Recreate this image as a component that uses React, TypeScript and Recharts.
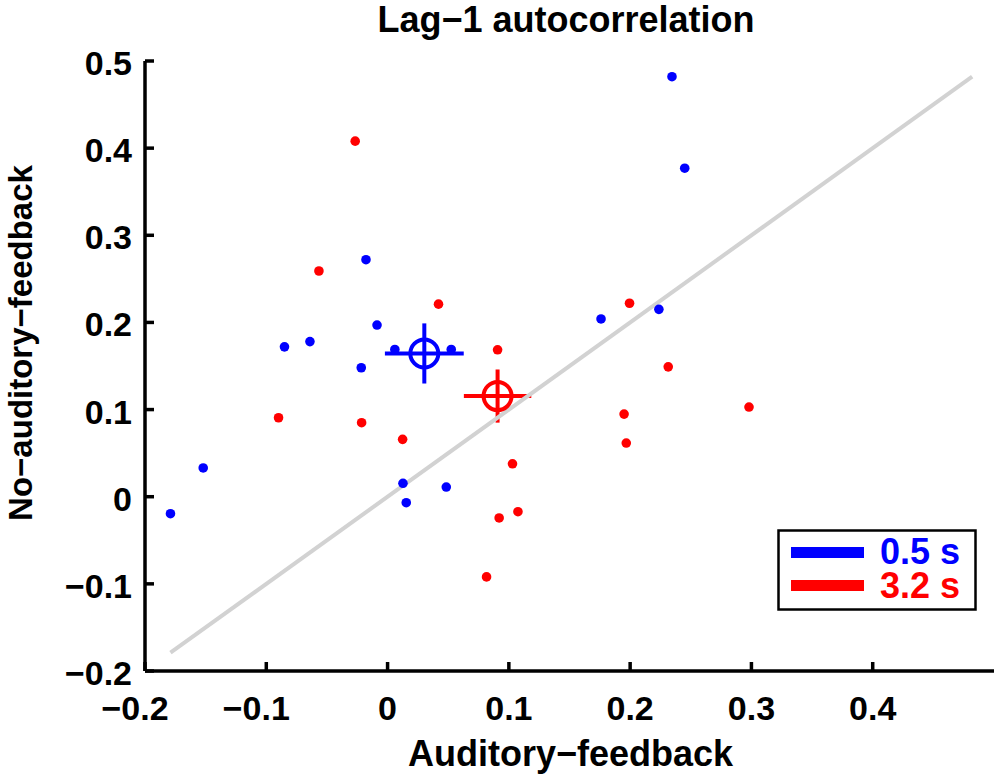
import React from 'react';
import { ScatterChart, Scatter, XAxis, YAxis, ErrorBar, Label, Legend } from 'recharts';

// one dot per subject, two tempo conditions
const blueX = [0.2345, 0.245, -0.0178, -0.0087, -0.064, -0.085, 0.006, 0.0525, -0.0217, 0.176, 0.2237, -0.152, 0.0127, 0.0484, -0.179, 0.0154];
const blueY = [0.482, 0.377, 0.272, 0.197, 0.178, 0.172, 0.169, 0.169, 0.148, 0.204, 0.215, 0.033, 0.0154, 0.0111, -0.0195, -0.0069];
const redX = [-0.0267, -0.0566, 0.042, 0.0907, 0.1995, 0.2314, -0.0899, -0.0214, 0.0124, 0.103, 0.1075, 0.092, 0.0816, 0.195, 0.298, 0.1968];
const redY = [0.408, 0.259, 0.221, 0.1686, 0.222, 0.149, 0.0906, 0.0849, 0.0658, 0.0378, -0.0172, -0.0244, -0.092, 0.0948, 0.1029, 0.0616];

// group means with error bars (blue, red)
const meanX = [0.0303, 0.0907];
const meanY = [0.1644, 0.1155];
const errX = [0.0325, 0.0278];
const errY = [0.0345, 0.0305];

const xTicks = [-0.2, -0.1, 0, 0.1, 0.2, 0.3, 0.4];
const yTicks = [-0.2, -0.1, 0, 0.1, 0.2, 0.3, 0.4, 0.5];
const seriesNames = ['0.5 s', '3.2 s'];

const BLUE = '#0000ff';
const RED = '#ff0000';
const FONT = '"Liberation Sans", Arial, Helvetica, sans-serif';

const toPoints = (xs: number[], ys: number[]) => xs.map((x, i) => ({ x, y: ys[i] }));
const bluePts = toPoints(blueX, blueY);
const redPts = toPoints(redX, redY);
const blueMean = [{ x: meanX[0], y: meanY[0], ex: errX[0], ey: errY[0] }];
const redMean = [{ x: meanX[1], y: meanY[1], ex: errX[1], ey: errY[1] }];

// identity line spans the pooled data range
const all = [...blueX, ...blueY, ...redX, ...redY];
const lo = Math.min(...all);
const hi = Math.max(...all);
const diag = [{ x: lo, y: lo }, { x: hi, y: hi }];

const fmt = (v: number) => (v === 0 ? '0' : (v < 0 ? '\u2212' : '') + Math.abs(v).toFixed(1));

const XTick = ({ x, y, payload }: any) => {
  const v = payload.value;
  return (
    <g>
      <line x1={x} x2={x} y1={y} y2={y - 9} stroke="#000" strokeWidth={3.5} />
      <text x={x + (v < 0 ? -10 : 0)} y={y + 49} textAnchor="middle" fontFamily={FONT} fontWeight="bold" fontSize={34} fill="#000">
        {fmt(v)}
      </text>
    </g>
  );
};

const YTick = ({ x, y, payload }: any) => (
  <g>
    <line x1={x} x2={x + 9} y1={y} y2={y} stroke="#000" strokeWidth={3.5} />
    <text x={x - 13} y={y + 14} textAnchor="end" fontFamily={FONT} fontWeight="bold" fontSize={34} fill="#000">
      {fmt(payload.value)}
    </text>
  </g>
);

const dot = (color: string) => (props: any) => <circle cx={props.cx} cy={props.cy} r={4.8} fill={color} />;
const ring = (color: string) => (props: any) => (
  <circle cx={props.cx} cy={props.cy} r={14} fill="none" stroke={color} strokeWidth={4} />
);

const LegendBox = () => (
  <svg width={200} height={82} style={{ display: 'block' }}>
    <rect x={1.5} y={1.5} width={197} height={79} fill="#fff" stroke="#000" strokeWidth={2.5} />
    <rect x={14} y={18} width={73} height={11} fill={BLUE} />
    <rect x={14} y={51} width={73} height={11} fill={RED} />
    <text x={103} y={35} fontFamily={FONT} fontWeight="bold" fontSize={36} fill={BLUE}>{seriesNames[0]}</text>
    <text x={103} y={69} fontFamily={FONT} fontWeight="bold" fontSize={36} fill={RED}>{seriesNames[1]}</text>
  </svg>
);

export default function App() {
  return (
    <div style={{ position: 'absolute', left: 0, top: 0, width: 1000, height: 781, background: '#fff' }}>
      <ScatterChart width={1000} height={781} margin={{ top: 61, right: 6, bottom: 0, left: 0 }}>
        <XAxis
          type="number"
          dataKey="x"
          domain={[-0.2, 0.5]}
          ticks={xTicks}
          interval={0}
          height={110}
          tickSize={0}
          tickMargin={0}
          tick={<XTick />}
          axisLine={{ stroke: '#000', strokeWidth: 3.5 }}
          allowDataOverflow
        >
          <Label
            content={({ viewBox }: any) => (
              <text x={viewBox.x + viewBox.width / 2 + 1} y={viewBox.y + 95} textAnchor="middle" fontFamily={FONT} fontWeight="bold" fontSize={36} fill="#000">
                Auditory{'\u2212'}feedback
              </text>
            )}
          />
        </XAxis>
        <YAxis
          type="number"
          dataKey="y"
          domain={[-0.2, 0.5]}
          ticks={yTicks}
          interval={0}
          width={145}
          tickSize={0}
          tickMargin={0}
          tick={<YTick />}
          axisLine={{ stroke: '#000', strokeWidth: 3.5 }}
          allowDataOverflow
        >
          <Label
            content={() => (
              <text x={32} y={343} transform="rotate(-90 32 343)" textAnchor="middle" fontFamily={FONT} fontWeight="bold" fontSize={33} fill="#000">
                No{'\u2212'}auditory{'\u2212'}feedback
              </text>
            )}
          />
        </YAxis>
        <Legend
          layout="vertical"
          align="center"
          verticalAlign="middle"
          wrapperStyle={{ left: 777, top: 529, width: 200 }}
          content={() => <LegendBox />}
        />
        <Scatter
          data={diag}
          line={{ stroke: '#d2d2d2', strokeWidth: 4 }}
          shape={() => <g />}
          isAnimationActive={false}
          legendType="none"
        />
        <Scatter data={bluePts} shape={dot(BLUE)} isAnimationActive={false} />
        <Scatter data={redPts} shape={dot(RED)} isAnimationActive={false} />
        <Scatter data={blueMean} shape={ring(BLUE)} isAnimationActive={false}>
          <ErrorBar dataKey="ex" direction="x" width={0} stroke={BLUE} strokeWidth={4} />
          <ErrorBar dataKey="ey" direction="y" width={0} stroke={BLUE} strokeWidth={4} />
        </Scatter>
        <Scatter data={redMean} shape={ring(RED)} isAnimationActive={false}>
          <ErrorBar dataKey="ex" direction="x" width={0} stroke={RED} strokeWidth={4} />
          <ErrorBar dataKey="ey" direction="y" width={0} stroke={RED} strokeWidth={4} />
        </Scatter>
      </ScatterChart>
      <svg width={1000} height={60} style={{ position: 'absolute', left: 0, top: 0, pointerEvents: 'none' }}>
        <text x={566} y={32} textAnchor="middle" fontFamily={FONT} fontWeight="bold" fontSize={36} fill="#000">
          Lag{'\u2212'}1 autocorrelation
        </text>
      </svg>
    </div>
  );
}
